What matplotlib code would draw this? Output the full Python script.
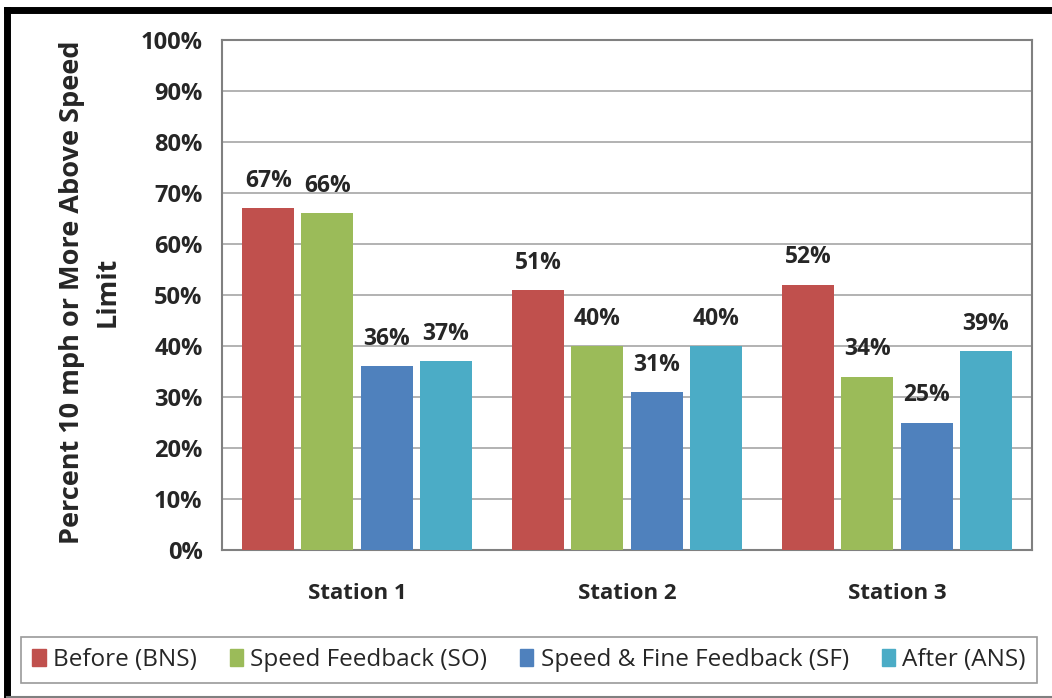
import matplotlib
matplotlib.use("Agg")
import matplotlib.pyplot as plt
import numpy as np
from matplotlib.patches import Rectangle
from matplotlib.lines import Line2D

stations = ["Station 1", "Station 2", "Station 3"]
series = ["Before (BNS)", "Speed Feedback (SO)", "Speed & Fine Feedback (SF)", "After (ANS)"]
before = [67, 51, 52]
speed_fb = [66, 40, 34]
speed_fine_fb = [36, 31, 25]
after = [37, 40, 39]
colors = ["#C0504D", "#9BBB59", "#4F81BD", "#4BACC6"]

plt.rcParams['font.family'] = ['Open Sans', 'DejaVu Sans']

fig = plt.figure(figsize=(10.52, 6.98), dpi=100)
ax = fig.add_axes([222/1052, 1 - 550/698, 810/1052, 510/698])

x = np.arange(len(stations))
width = 0.193
step = 0.219
all_vals = [before, speed_fb, speed_fine_fb, after]
for i, vals in enumerate(all_vals):
    pos = x + (i - 1.5) * step
    bars = ax.bar(pos, vals, width, color=colors[i], label=series[i], zorder=3)
    for b, v in zip(bars, vals):
        ax.text(b.get_x() + b.get_width() / 2, v + 3.0, f"{v}%", ha="center",
                va="bottom", fontsize=16.5, fontweight="bold", color="#262626")

ax.set_xlim(-0.5, 2.5)
ax.set_ylim(0, 100)
ax.set_yticks(range(0, 101, 10))
ax.set_yticklabels([f"{t}%" for t in range(0, 101, 10)], fontsize=17, fontweight="bold")
ax.set_xticks(x)
ax.set_xticklabels(stations, fontsize=16, fontweight="bold")
ax.tick_params(axis="both", length=0, colors="#262626")
ax.tick_params(axis="y", pad=14)
ax.tick_params(axis="x", pad=24)
ax.yaxis.grid(True, color="#A6A6A6", linewidth=1.2, zorder=0)
for s in ax.spines.values():
    s.set_color("#808080")
    s.set_linewidth(1.5)

fig.text(90/1052, 1 - 292/698, "Percent 10 mph or More Above Speed\nLimit", rotation=90,
         ha="center", va="center", fontsize=19.5, fontweight="bold", linespacing=1.45,
         color="#262626")

handles = [Rectangle((0, 0), 1, 1, color=c) for c in colors]
leg = fig.legend(handles, series, loc="center", bbox_to_anchor=(529/1052, 1 - 660/698),
                 ncol=4, fontsize=17.5, frameon=True, fancybox=False, edgecolor="#808080",
                 handlelength=0.55, handleheight=0.7, handletextpad=0.3, columnspacing=1.35,
                 borderpad=0.45)
leg.get_frame().set_linewidth(1.2)
for t in leg.get_texts():
    t.set_color("#262626")

# outer frame
fig.add_artist(Line2D([7/1052, 1], [1 - 10/698, 1 - 10/698], color="black", linewidth=5,
                      transform=fig.transFigure))
fig.add_artist(Line2D([7/1052, 7/1052], [1 - 10/698, 0.002], color="black", linewidth=5,
                      transform=fig.transFigure))
fig.add_artist(Line2D([7/1052, 1], [0.002, 0.002], color="#808080", linewidth=1.5,
                      transform=fig.transFigure))

fig.savefig("out.png", dpi=100)
